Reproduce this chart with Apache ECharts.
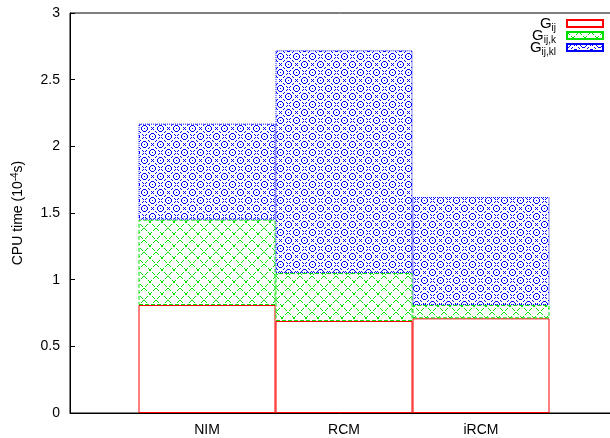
<!DOCTYPE html>
<html>
<head>
<meta charset="utf-8">
<script src="https://cdn.jsdelivr.net/npm/echarts@6/dist/echarts.min.js"></script>
<style>
html, body { margin: 0; padding: 0; background: #fff; }
#chart { width: 610px; height: 438px; }
</style>
</head>
<body>
<div id="chart"></div>
<script>
// categories (empty ones pad the range like the gnuplot histogram)
const categories = ['', 'NIM', 'RCM', 'iRCM', ''];
const seriesNames = ['Gij', 'Gij,k', 'Gij,kl'];
// CPU time parts, 10^-4 s
const gIj = [0.81, 0.69, 0.71];
const gIjK = [0.64, 0.36, 0.10];
const gIjKl = [0.72, 1.67, 0.81];

const subs = { 'Gij': 'ij', 'Gij,k': 'ij,k', 'Gij,kl': 'ij,kl' };

// pixel patterns roughly like gnuplot fill patterns
function makePattern(kind) {
  const c = document.createElement('canvas');
  const s = kind === 'blue' ? 16 : 12;
  c.width = s; c.height = s;
  const ctx = c.getContext('2d');
  ctx.fillStyle = '#fff';
  ctx.fillRect(0, 0, s, s);
  const px = (x, y) => ctx.fillRect(((x % s) + s) % s, ((y % s) + s) % s, 1, 1);
  if (kind === 'green') {
    ctx.fillStyle = '#00e000';
    for (let i = 0; i < s; i++) {
      if (i % 4 === 3) continue;
      px(i, i);
      px(s - 1 - i, i);
    }
  } else {
    ctx.fillStyle = '#0000ff';
    // diamond lattice
    for (let i = 0; i < s; i++) {
      if (i % 3 === 2) continue;
      px(8 + i, i);
      px(8 - i, i);
    }
    // rings in the diamond cells
    const ring = (cx, cy) => {
      px(cx - 1, cy - 3); px(cx, cy - 3); px(cx + 1, cy - 3);
      px(cx - 3, cy - 1); px(cx - 3, cy); px(cx - 3, cy + 1);
      px(cx + 3, cy - 1); px(cx + 3, cy); px(cx + 3, cy + 1);
      px(cx - 1, cy + 3); px(cx, cy + 3); px(cx + 1, cy + 3);
      px(cx - 2, cy - 2); px(cx + 2, cy - 2); px(cx - 2, cy + 2); px(cx + 2, cy + 2);
      px(cx, cy);
    };
    ring(0, 0);
    ring(8, 8);
  }
  return { image: c, repeat: 'repeat' };
}

const chart = echarts.init(document.getElementById('chart'));

const pad = arr => ['-'].concat(arr, ['-']);

chart.setOption({
  animation: false,
  textStyle: { fontFamily: 'Liberation Sans, Arial, sans-serif' },
  grid: {
    left: 70, top: 13, width: 548, height: 400,
    outerBoundsMode: 'none',
    containLabel: false,
    show: true, borderColor: '#000', borderWidth: 1, backgroundColor: 'transparent'
  },
  legend: {
    orient: 'vertical',
    right: 6, top: 16,
    padding: 0,
    align: 'right',
    itemWidth: 36, itemHeight: 7, itemGap: -5,
    icon: 'rect',
    data: seriesNames,
    formatter: name => '{g|G}{s|' + subs[name] + '}',
    textStyle: {
      padding: [0, 6, 0, 0],
      rich: {
        g: { fontSize: 15, lineHeight: 15, color: '#000', fontFamily: 'Liberation Sans', verticalAlign: 'top' },
        s: { fontSize: 10, lineHeight: 10, color: '#000', fontFamily: 'Liberation Sans', verticalAlign: 'top', padding: [7, 0, 0, 0] }
      }
    }
  },
  xAxis: {
    type: 'category',
    data: categories,
    boundaryGap: false,
    axisLine: { lineStyle: { color: '#000', width: 1 } },
    axisTick: { show: false },
    axisLabel: { color: '#000', fontSize: 14, margin: 10 }
  },
  yAxis: {
    type: 'value',
    min: 0, max: 3, interval: 0.5,
    name: '{t|CPU time (10}{sup|-4}{t|s)}',
    nameLocation: 'middle',
    nameGap: 44,
    nameTextStyle: {
      rich: {
        t: { fontSize: 14, color: '#000' },
        sup: { fontSize: 10, color: '#000', padding: [0, 0, 6, 0] }
      }
    },
    axisLine: { show: true, lineStyle: { color: '#000', width: 1 } },
    axisTick: { show: true, inside: true, length: 5, lineStyle: { color: '#000' } },
    axisLabel: { color: '#000', fontSize: 14, margin: 10 },
    splitLine: { show: false }
  },
  series: [
    {
      name: seriesNames[0], type: 'bar', stack: 'cpu', barWidth: 137,
      data: pad(gIj),
      itemStyle: { color: '#fff', borderColor: '#ff0000', borderWidth: 1 }
    },
    {
      name: seriesNames[1], type: 'bar', stack: 'cpu', barWidth: 137,
      data: pad(gIjK),
      itemStyle: { color: makePattern('green'), borderColor: '#00e000', borderWidth: 1, borderType: 'dashed' }
    },
    {
      name: seriesNames[2], type: 'bar', stack: 'cpu', barWidth: 137,
      data: pad(gIjKl),
      itemStyle: { color: makePattern('blue'), borderColor: '#0000ff', borderWidth: 1, borderType: 'dotted' }
    }
  ]
});
</script>
</body>
</html>
